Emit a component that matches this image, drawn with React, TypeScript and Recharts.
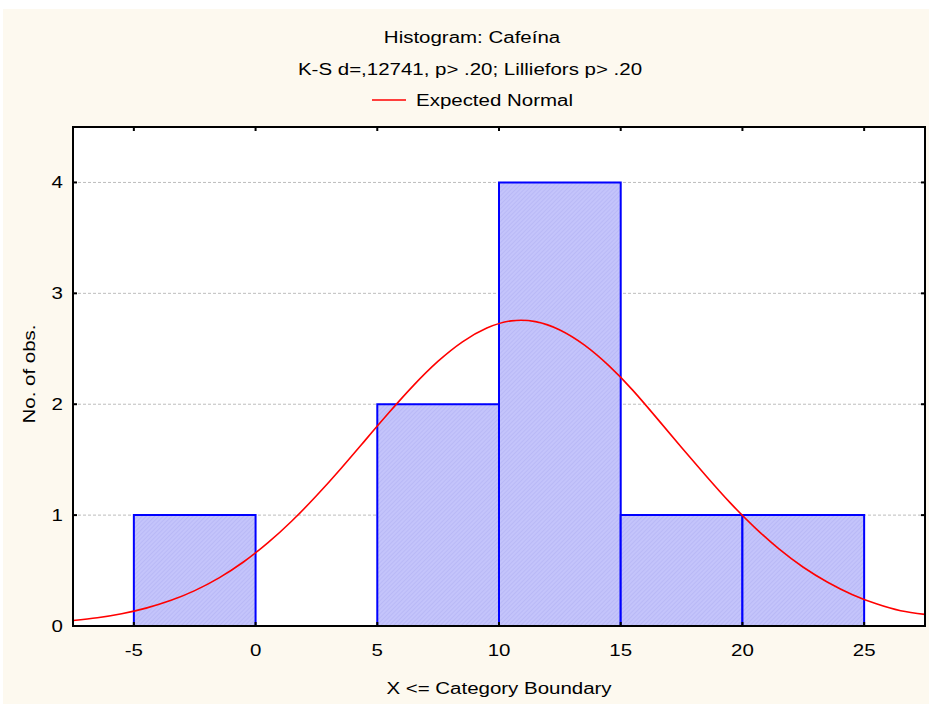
import React from 'react';
import {
  ComposedChart,
  Line,
  XAxis,
  YAxis,
  CartesianGrid,
  ReferenceArea,
} from 'recharts';

// histogram bins (upper boundary convention: X <= boundary)
const binStarts = [-5, 5, 10, 15, 20];
const binEnds = [0, 10, 15, 20, 25];
const binCounts = [1, 2, 4, 1, 1];

// expected normal curve
const curveX = [
  -7.5, -6.5, -5.5, -4.5, -3.5, -2.5, -1.5, -0.5, 0.5, 1.5, 2.5, 3.5, 4.5, 5.5, 6.5, 7.5, 8.5, 9.5,
  10.5, 11.5, 12.5, 13.5, 14.5, 15.5, 16.5, 17.5, 18.5, 19.5, 20.5, 21.5, 22.5, 23.5, 24.5, 25.5,
  26.5, 27.5,
];
const curveY = [
  0.05, 0.074, 0.11, 0.161, 0.229, 0.319, 0.434, 0.577, 0.749, 0.949, 1.174, 1.418, 1.674, 1.929,
  2.172, 2.388, 2.563, 2.687, 2.752, 2.745, 2.67, 2.535, 2.35, 2.125, 1.87, 1.61, 1.355, 1.11, 0.89,
  0.695, 0.53, 0.395, 0.285, 0.2, 0.138, 0.105,
];

const xTicks = [-5, 0, 5, 10, 15, 20, 25];
const yTicks = [0, 1, 2, 3, 4];
const xDomain = [-7.5, 27.5];
const yDomain = [0, 4.5];

const titleText = 'Histogram: Cafeína';
const subtitleText = 'K-S d=,12741, p> .20; Lilliefors p> .20';
const legendText = 'Expected Normal';
const xLabelText = 'X <= Category Boundary';
const yLabelText = 'No. of obs.';

const FONT = '"Liberation Sans", Arial, sans-serif';
const SX = 1.28; // the original glyphs are horizontally stretched

const curveData = curveX.map((x, i) => ({ x, y: curveY[i] }));

const Txt = ({ x, y, anchor = 'middle', rotate = 0, children }: any) => (
  <text
    transform={`translate(${x},${y}) rotate(${rotate}) scale(${SX},1)`}
    textAnchor={anchor}
    fontFamily={FONT}
    fontSize={16}
    fill="#000"
  >
    {children}
  </text>
);

const BottomTick = ({ x, y, payload }: any) => (
  <g>
    <line x1={x} y1={y} x2={x} y2={y - 4} stroke="#000" strokeWidth={2} />
    <Txt x={x} y={y + 30}>{payload.value}</Txt>
  </g>
);

const TopTick = ({ x, y }: any) => (
  <line x1={x} y1={y} x2={x} y2={y + 4} stroke="#000" strokeWidth={2} />
);

const LeftTick = ({ x, y, payload }: any) => (
  <g>
    <line x1={x} y1={y} x2={x + 4} y2={y} stroke="#000" strokeWidth={2} />
    <Txt x={x - 10} y={y + 6} anchor="end">{payload.value}</Txt>
  </g>
);

const RightTick = ({ x, y }: any) => (
  <line x1={x} y1={y} x2={x - 4} y2={y} stroke="#000" strokeWidth={2} />
);

export default function App() {
  const axisLine = { stroke: '#000', strokeWidth: 2 };
  return (
    <div style={{ position: 'absolute', left: 0, top: 0, width: 929, height: 704, background: '#fff' }}>
      <div style={{ position: 'absolute', left: 3, top: 9, width: 926, height: 695, background: '#fdf9ef' }} />
      <div style={{ position: 'absolute', left: 0, top: 0 }}>
        <ComposedChart
          width={929}
          height={704}
          data={curveData}
          margin={{ top: 126, right: 3, bottom: 0, left: 0 }}
        >
          <defs>
            <pattern id="hatch" width="3" height="3" patternUnits="userSpaceOnUse" patternTransform="rotate(45)">
              <rect width="3" height="3" fill="#c4c4fb" />
              <line x1="0" y1="0" x2="0" y2="3" stroke="#aeaef2" strokeWidth="1" />
            </pattern>
          </defs>
          <CartesianGrid vertical={false} stroke="#bdbdbd" strokeDasharray="3 2" fill="#fff" />
          <XAxis
            dataKey="x"
            type="number"
            domain={xDomain}
            ticks={xTicks}
            interval={0}
            height={78}
            axisLine={axisLine}
            tickLine={false}
            tickSize={0}
            tickMargin={0}
            tick={<BottomTick />}
            allowDataOverflow
          />
          <XAxis
            xAxisId="top"
            orientation="top"
            dataKey="x"
            type="number"
            domain={xDomain}
            ticks={xTicks}
            interval={0}
            height={1}
            axisLine={axisLine}
            tickLine={false}
            tickSize={0}
            tickMargin={0}
            tick={<TopTick />}
            allowDataOverflow
          />
          <YAxis
            type="number"
            domain={yDomain}
            ticks={yTicks}
            interval={0}
            width={73}
            axisLine={axisLine}
            tickLine={false}
            tickSize={0}
            tickMargin={0}
            tick={<LeftTick />}
            allowDataOverflow
          />
          <YAxis
            yAxisId="right"
            orientation="right"
            type="number"
            domain={yDomain}
            ticks={yTicks}
            interval={0}
            width={1}
            axisLine={axisLine}
            tickLine={false}
            tickSize={0}
            tickMargin={0}
            tick={<RightTick />}
            allowDataOverflow
          />
          {binStarts.map((s, i) => (
            <ReferenceArea
              key={i}
              x1={s}
              x2={binEnds[i]}
              y1={0}
              y2={binCounts[i]}
              fill="url(#hatch)"
              fillOpacity={1}
              stroke="#0000ff"
              strokeWidth={2}
              ifOverflow="visible"
            />
          ))}
          <ReferenceArea
            x1={xDomain[0]}
            x2={xDomain[1]}
            y1={yDomain[0]}
            y2={yDomain[1]}
            fill="none"
            stroke="#000"
            strokeWidth={2}
            ifOverflow="visible"
          />
          <Line
            type="natural"
            dataKey="y"
            stroke="#ff0000"
            strokeWidth={1.6}
            dot={false}
            activeDot={false}
            isAnimationActive={false}
          />
        </ComposedChart>
      </div>
      <svg width={929} height={704} style={{ position: 'absolute', left: 0, top: 0, pointerEvents: 'none' }}>
        <Txt x={472} y={43}>{titleText}</Txt>
        <Txt x={470} y={75}>{subtitleText}</Txt>
        <line x1={372} y1={100} x2={406} y2={100} stroke="#ff0000" strokeWidth={1.6} />
        <Txt x={416} y={106} anchor="start">{legendText}</Txt>
        <Txt x={499} y={694}>{xLabelText}</Txt>
        <Txt x={35} y={374} rotate={-90}>{yLabelText}</Txt>
      </svg>
    </div>
  );
}
